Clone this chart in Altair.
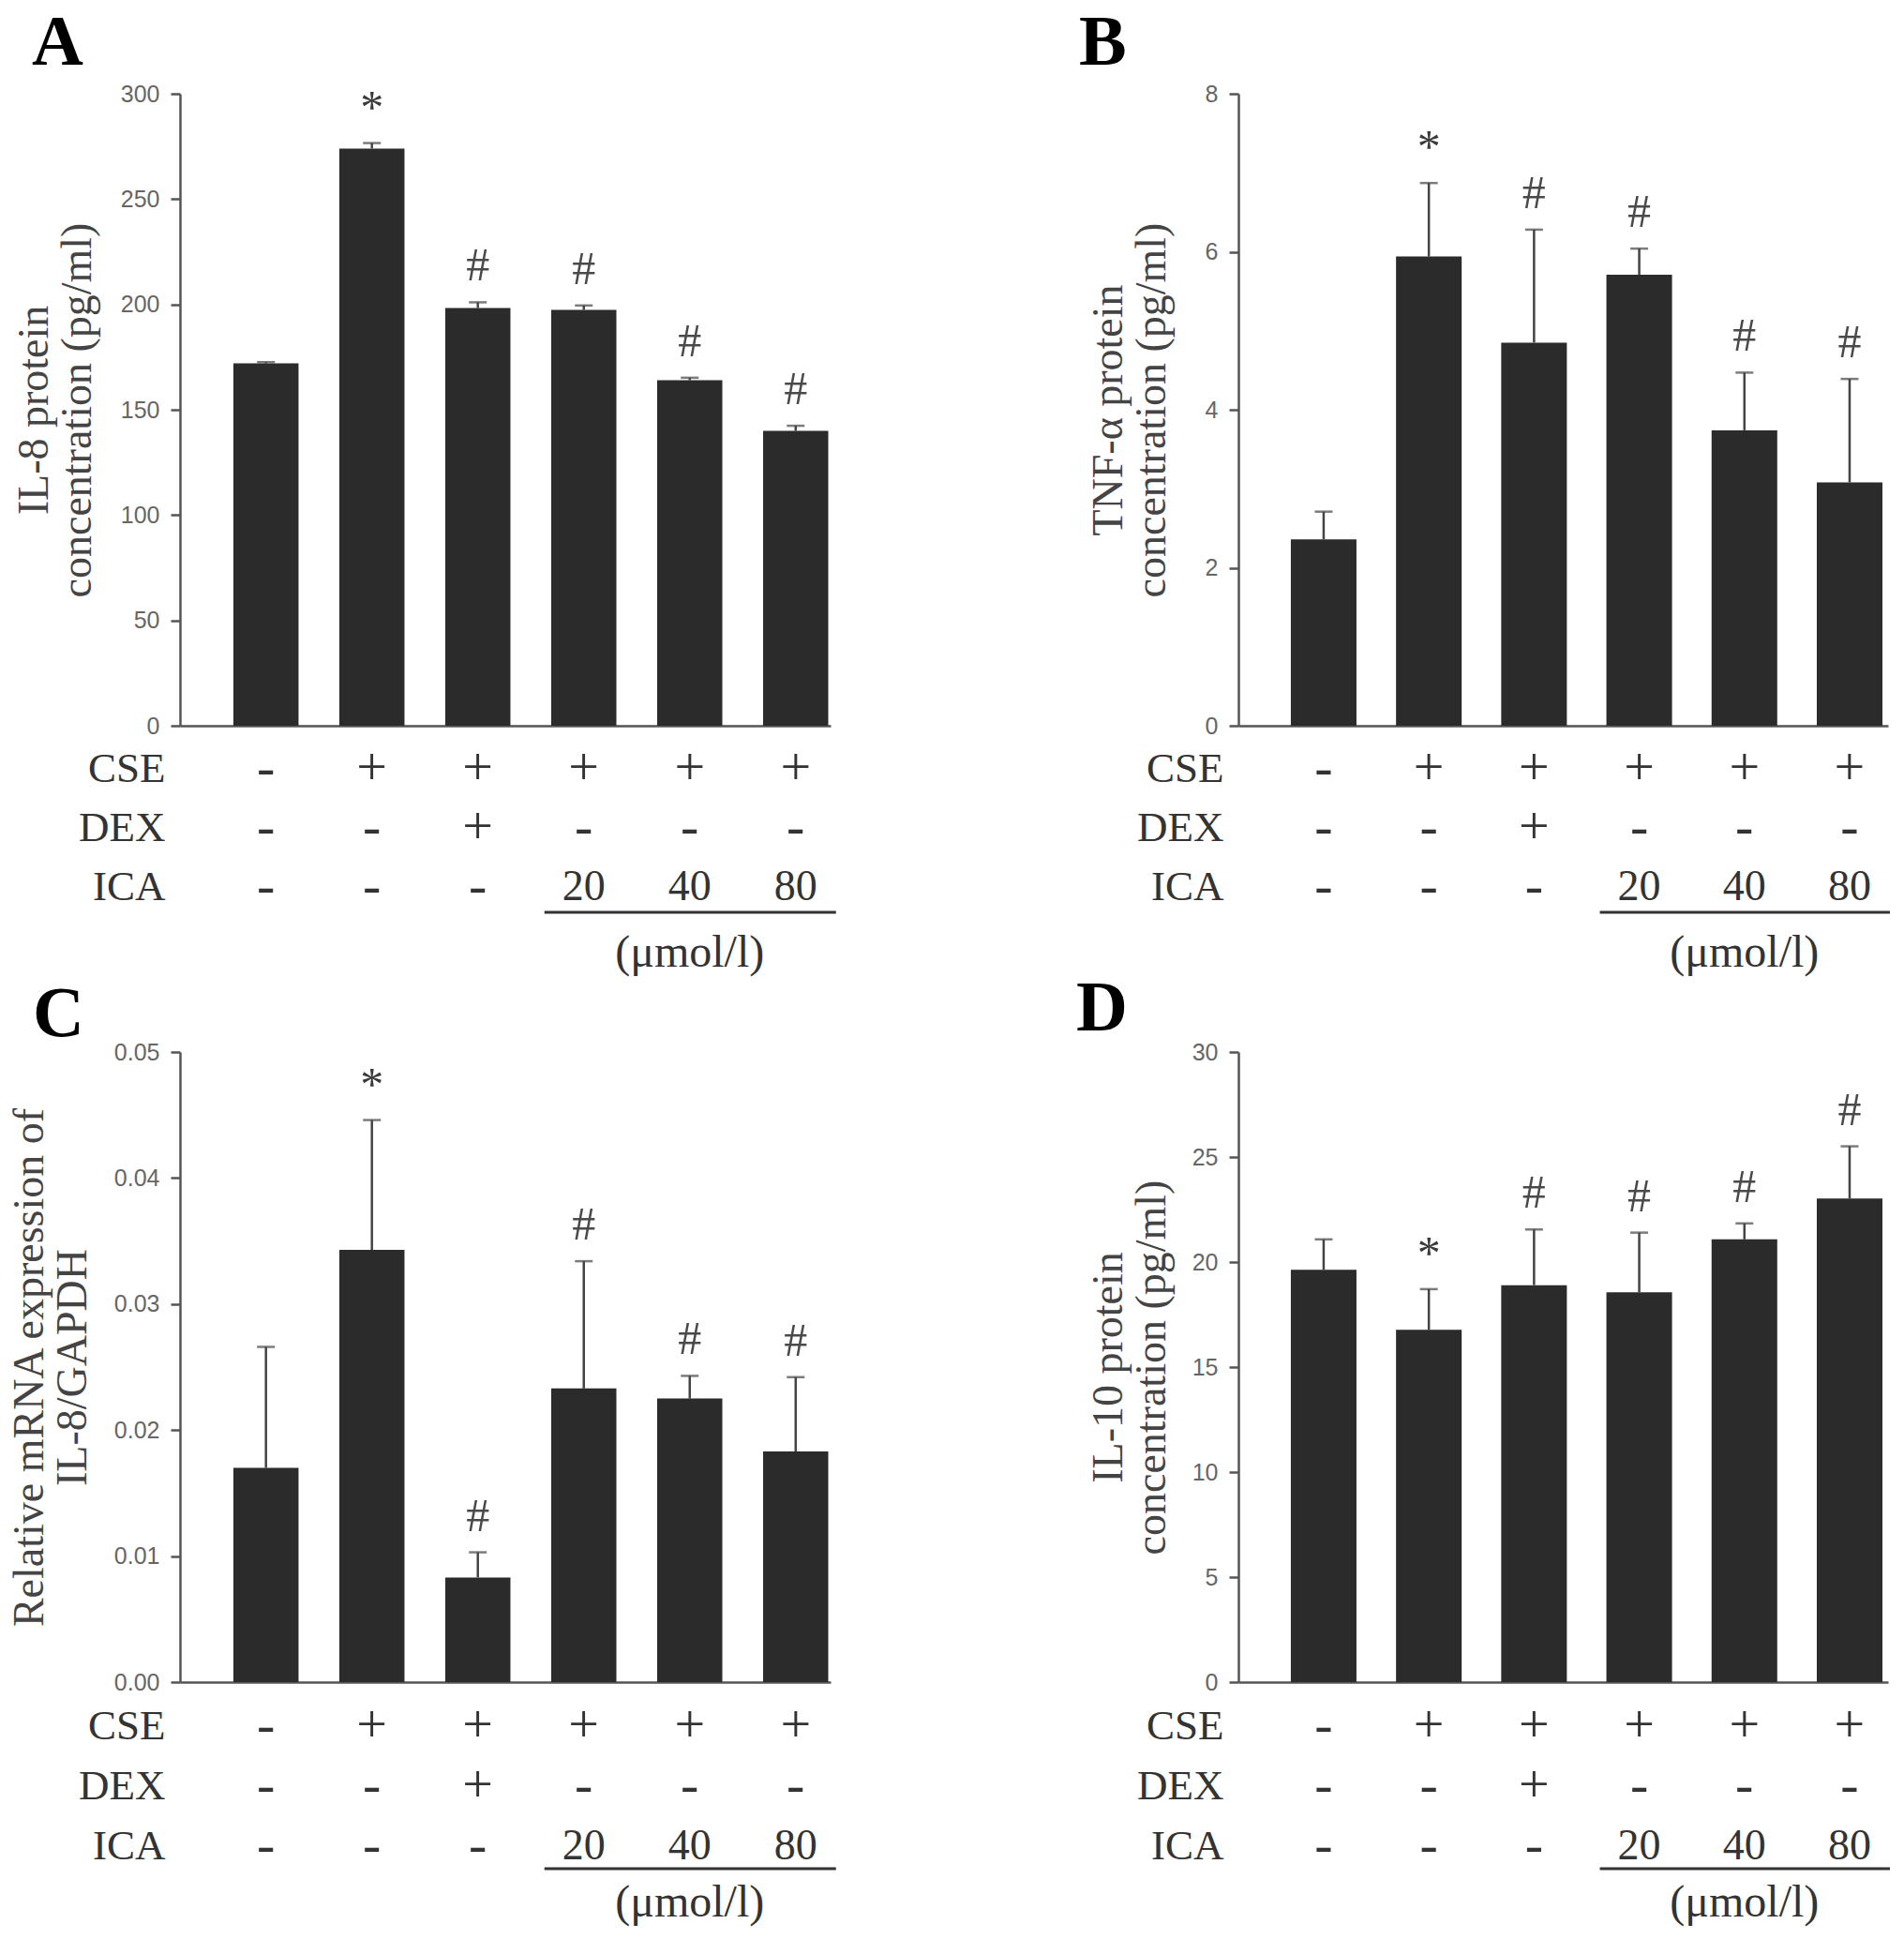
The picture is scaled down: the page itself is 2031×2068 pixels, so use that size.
import altair as alt
import pandas as pd

# ---------------- data ----------------
groups = ["Control", "CSE", "CSE+DEX", "CSE+ICA20", "CSE+ICA40", "CSE+ICA80"]
cse_row = ["-", "+", "+", "+", "+", "+"]
dex_row = ["-", "-", "+", "-", "-", "-"]
ica_row = ["-", "-", "-", "20", "40", "80"]
row_names = ["CSE", "DEX", "ICA", "unit"]
unit_label = "(μmol/l)"
unit_group = "CSE+ICA40"

il8_mean = [172.0, 274.0, 198.3, 197.4, 164.0, 140.0]
il8_upper = [172.6, 276.6, 201.0, 199.5, 165.2, 142.4]
il8_marks = ["", "*", "#", "#", "#", "#"]

tnf_mean = [2.36, 5.94, 4.85, 5.71, 3.74, 3.08]
tnf_upper = [2.71, 6.87, 6.28, 6.04, 4.47, 4.39]
tnf_marks = ["", "*", "#", "#", "#", "#"]

mrna_mean = [0.0170, 0.0343, 0.0083, 0.0233, 0.0225, 0.0183]
mrna_upper = [0.0266, 0.0446, 0.0103, 0.0334, 0.0243, 0.0242]
mrna_marks = ["", "*", "#", "#", "#", "#"]

il10_mean = [19.63, 16.77, 18.90, 18.56, 21.08, 23.02]
il10_upper = [21.08, 18.71, 21.55, 21.40, 21.84, 25.51]
il10_marks = ["", "*", "#", "#", "#", "#"]

# ---------------- style ----------------
SERIF = "Liberation Serif"
SANS = "Liberation Sans"
BAR = "#2b2b2b"
INK = "#333333"
AXIS = "#555555"

W1, W2 = 694, 693
H1, H3 = 674, 672

xs1 = alt.Scale(domain=groups, paddingInner=0.385, paddingOuter=0.263, align=0.958)
xs2 = alt.Scale(domain=groups, paddingInner=0.376, paddingOuter=0.276, align=0.903)


def panel(mean, upper, marks, ymax, ystep, fmt, ytitle, letter, xscale, width, height,
          title_pad, letter_dx, letter_dy):
    df = pd.DataFrame({"group": groups, "mean": mean, "upper": upper, "mark": marks})
    ticks = [round(i * ystep, 6) for i in range(int(round(ymax / ystep)) + 1)]
    yaxis = alt.Axis(
        values=ticks, format=fmt, title=ytitle, grid=False,
        domainColor=AXIS, domainWidth=2.5, tickColor=AXIS, tickWidth=2.5, tickSize=10,
        labelFont=SANS, labelFontSize=25, labelColor="#666666", labelPadding=12,
        titleFont=SERIF, titleFontSize=46, titleFontWeight="normal", titleColor="#444444",
        titleLineHeight=46, titlePadding=title_pad,
    )
    xaxis = alt.Axis(labels=False, ticks=False, title=None, domainColor=AXIS, domainWidth=2.5)
    yscale = alt.Scale(domain=[0, ymax], nice=False, zero=True)
    x = alt.X("group:N", scale=xscale, axis=xaxis)
    base = alt.Chart(df)
    bars = base.mark_bar(color=BAR).encode(
        x=x, y=alt.Y("mean:Q", scale=yscale, axis=yaxis, title=ytitle))
    err = base.mark_rule(color="#444444", strokeWidth=2.5).encode(
        x=x, y=alt.Y("mean:Q", scale=yscale, axis=yaxis, title=ytitle), y2="upper:Q")
    cap = base.mark_tick(color="#444444", thickness=2.5, size=19, orient="horizontal").encode(
        x=x, y=alt.Y("upper:Q", scale=yscale, axis=yaxis, title=ytitle))
    star = base.transform_filter("datum.mark == '*'").mark_text(
        font=SERIF, fontSize=50, color="#3a3a3a", baseline="alphabetic", dy=-22).encode(
        x=x, y=alt.Y("upper:Q", scale=yscale, axis=yaxis, title=ytitle), text="mark:N")
    hash_ = base.transform_filter("datum.mark == '#'").mark_text(
        font=SERIF, fontSize=50, color="#4a4a4a", baseline="alphabetic", dy=-23).encode(
        x=x, y=alt.Y("upper:Q", scale=yscale, axis=yaxis, title=ytitle), text="mark:N")
    return alt.layer(bars, err, cap, star, hash_).properties(
        width=width, height=height,
        title=alt.TitleParams(letter, anchor="start", frame="group", font=SERIF, fontSize=76,
                              fontWeight="bold", color="#000000", baseline="alphabetic",
                              offset=0, dx=letter_dx, dy=letter_dy),
    )


def table(xscale, width, height, rng, line_dy, unit_dy):
    recs = []
    for g, c, d, i in zip(groups, cse_row, dex_row, ica_row):
        recs.append({"group": g, "row": "CSE", "txt": c})
        recs.append({"group": g, "row": "DEX", "txt": d})
        recs.append({"group": g, "row": "ICA", "txt": i})
    df = pd.DataFrame(recs)
    ysc = alt.Scale(domain=row_names, range=rng, paddingInner=0, paddingOuter=0)
    yax = alt.Axis(title=None, domain=False, ticks=False, grid=False,
                   labelFont=SERIF, labelFontSize=45, labelColor=INK, labelPadding=16,
                   labelExpr="datum.value == 'unit' ? '' : datum.value")
    y = alt.Y("row:N", scale=ysc, axis=yax)
    x = alt.X("group:N", scale=xscale, axis=None)
    base = alt.Chart(df)
    sym = base.transform_filter("datum.txt == '+' || datum.txt == '-'").mark_text(
        font=SERIF, fontSize=58, color=INK).encode(x=x, y=y, text="txt:N")
    num = base.transform_filter("datum.txt != '+' && datum.txt != '-'").mark_text(
        font=SERIF, fontSize=46, color=INK).encode(x=x, y=y, text="txt:N")
    udf = pd.DataFrame({"group": [unit_group], "row": ["unit"], "txt": [unit_label]})
    unit = alt.Chart(udf).mark_text(font=SERIF, fontSize=48, color=INK, dy=unit_dy).encode(
        x=x, y=y, text="txt:N")
    ldf = pd.DataFrame({"group": [groups[3]], "end": [groups[5]], "row": ["ICA"]})
    line = alt.Chart(ldf).mark_rule(color=INK, strokeWidth=3, xOffset=-42, x2Offset=43,
                                    yOffset=line_dy).encode(x=x, x2="end:N", y=y)
    return alt.layer(sym, num, unit, line).properties(width=width, height=height)


pA = panel(il8_mean, il8_upper, il8_marks, 300, 50, "d",
           ["IL-8 protein", "concentration (pg/ml)"], "A", xs1, W1, H1, 21.6, -158, 57)
pB = panel(tnf_mean, tnf_upper, tnf_marks, 8, 2, "d",
           ["TNF-α protein", "concentration (pg/ml)"], "B", xs2, W2, H1, 32.4, -170, 57)
pC = panel(mrna_mean, mrna_upper, mrna_marks, 0.05, 0.01, ".2f",
           ["Relative mRNA expression of", "IL-8/GAPDH"], "C", xs1, W1, H3, 19.6, -157, 71)
pD = panel(il10_mean, il10_upper, il10_marks, 30, 5, "d",
           ["IL-10 protein", "concentration (pg/ml)"], "D", xs2, W2, H3, 18.5, -173, 65)

tA = table(xs1, W1, 319, [0, 252], 27, 8)
tB = table(xs2, W2, 319, [0, 252], 27, 8)
tC = table(xs1, W1, 240, [0, 256], 24.5, -3)
tD = table(xs2, W2, 240, [0, 256], 24.5, -3)

chart = alt.concat(
    pA, pB, tA, tB, pC, pD, tC, tD,
    columns=2, spacing={"row": 14.5, "column": 435}, bounds="flush",
).properties(
    padding={"left": 0, "top": 0, "right": 0, "bottom": 0},
    background="white",
).configure_view(strokeWidth=0, stroke="transparent")

chart.save("out.html", embed_options={"renderer": "svg", "actions": False})
